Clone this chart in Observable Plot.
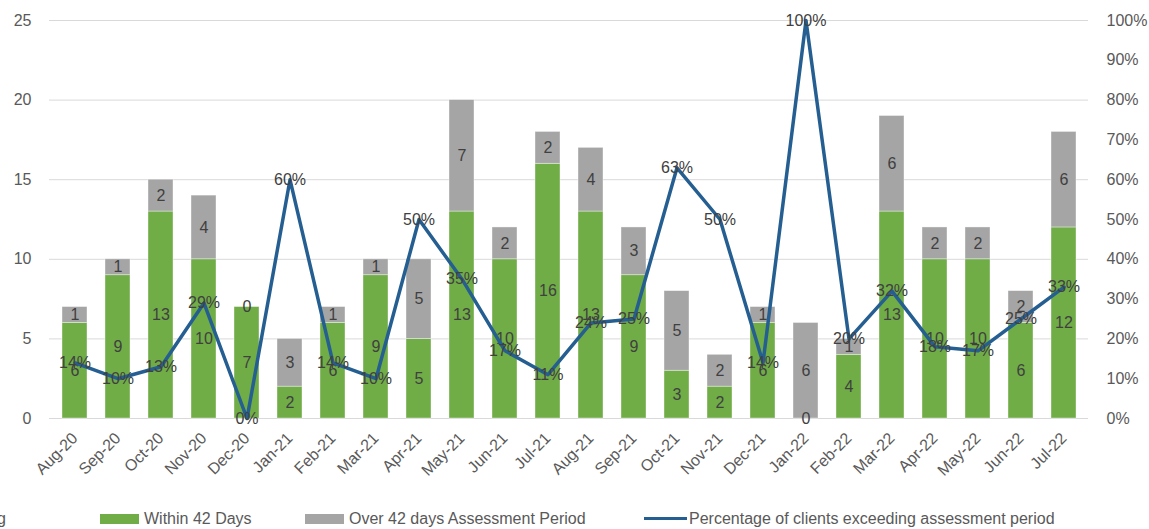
<!DOCTYPE html>
<html>
<head>
<meta charset="utf-8">
<script src="https://cdn.jsdelivr.net/npm/d3@7"></script>
<script src="https://cdn.jsdelivr.net/npm/@observablehq/plot@0.6"></script>
<style>
  html, body { margin: 0; padding: 0; background: #fff; }
  #wrap { position: relative; width: 1149px; height: 529px; overflow: hidden; font-family: "Liberation Sans", Arial, sans-serif; color: #595959; }
  #chart { position: absolute; left: 0; top: 0; }
  .lg { position: absolute; font-size: 16px; line-height: 18px; top: 510px; white-space: nowrap; }
  .sw { position: absolute; }
</style>
</head>
<body>
<div id="wrap">
  <div id="chart"></div>
  <div class="lg" style="left:-3px;">g</div>
  <div class="sw" style="left:100px; top:514px; width:39px; height:10px; background:#70AD47;"></div>
  <div class="lg" style="left:144px;">Within 42 Days</div>
  <div class="sw" style="left:305px; top:514px; width:39px; height:10px; background:#A5A5A5;"></div>
  <div class="lg" style="left:349px;">Over 42 days Assessment Period</div>
  <div class="sw" style="left:644px; top:517px; width:43px; height:3px; background:#255E91;"></div>
  <div class="lg" style="left:689px;">Percentage of clients exceeding assessment period</div>
</div>
<script>
const months = ["Aug-20","Sep-20","Oct-20","Nov-20","Dec-20","Jan-21","Feb-21","Mar-21","Apr-21","May-21","Jun-21","Jul-21","Aug-21","Sep-21","Oct-21","Nov-21","Dec-21","Jan-22","Feb-22","Mar-22","Apr-22","May-22","Jun-22","Jul-22"];
const within = [6,9,13,10,7,2,6,9,5,13,10,16,13,9,3,2,6,0,4,13,10,10,6,12];
const over = [1,1,2,4,0,3,1,1,5,7,2,2,4,3,5,2,1,6,1,6,2,2,2,6];
const pct = [14,10,13,29,0,60,14,10,50,35,17,11,24,25,63,50,14,100,20,32,18,17,25,33];
const seriesNames = ["Within 42 Days","Over 42 days Assessment Period"];
const leftTicks = [0,5,10,15,20,25];
const rightTicks = [0,10,20,30,40,50,60,70,80,90,100];

const rows = months.flatMap((m, i) => [
  {month: m, series: seriesNames[0], value: within[i]},
  {month: m, series: seriesNames[1], value: over[i]}
]);
const linePts = months.map((m, i) => ({month: m, pct: pct[i]}));
const yMax = 25;

const chart = Plot.plot({
  width: 1149,
  height: 505,
  marginTop: 20,
  marginLeft: 49,
  marginRight: 61,
  marginBottom: 87,
  x: {domain: months, paddingInner: 0.42, paddingOuter: 0.21, label: null},
  y: {domain: [0, yMax], label: null},
  color: {domain: seriesNames, range: ["#70AD47", "#A5A5A5"]},
  style: {fontFamily: "'Liberation Sans', Arial, sans-serif", fontSize: "16px", background: "#fff"},
  marks: [
    Plot.ruleY(leftTicks, {stroke: "#d9d9d9", strokeWidth: 1}),
    Plot.barY(rows, {x: "month", y: "value", z: "series", fill: "series", order: seriesNames, stroke: "#ffffff", strokeOpacity: 0.5, strokeWidth: 0.75}),
    Plot.text(rows, Plot.stackY({x: "month", y: "value", z: "series", order: seriesNames, text: d => String(d.value), fill: "#404040", fontSize: 16})),
    Plot.line(linePts, {x: "month", y: d => d.pct / 100 * yMax, stroke: "#255E91", strokeWidth: 3.5, strokeLinejoin: "round", strokeLinecap: "round"}),
    Plot.text(linePts, {x: "month", y: d => d.pct / 100 * yMax, text: d => d.pct + "%", fill: "#404040", fontSize: 16}),
    Plot.axisY({anchor: "left", ticks: leftTicks, tickSize: 0, tickPadding: 18, color: "#595959", fontSize: 16, label: null}),
    Plot.axisY({anchor: "right", ticks: rightTicks.map(p => p / 100 * yMax), tickFormat: v => Math.round(v / yMax * 100) + "%", tickSize: 0, tickPadding: 18, color: "#595959", fontSize: 16, label: null}),
    Plot.axisX({tickRotate: -45, tickSize: 0, tickPadding: 17, color: "#595959", fontSize: 16, label: null})
  ]
});
document.getElementById("chart").appendChild(chart);
</script>
</body>
</html>
